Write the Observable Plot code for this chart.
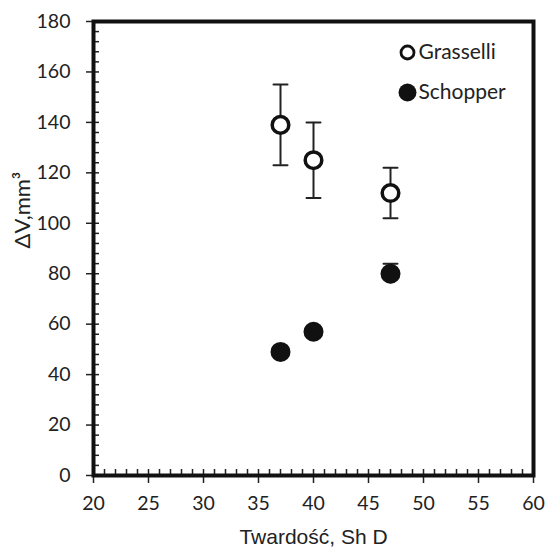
<!DOCTYPE html>
<html>
<head>
<meta charset="utf-8">
<script src="https://cdn.jsdelivr.net/npm/d3@7"></script>
<script src="https://cdn.jsdelivr.net/npm/@observablehq/plot@0.6"></script>
<style>
  html, body { margin: 0; padding: 0; background: #fff; }
  #chart { width: 548px; height: 555px; }
</style>
</head>
<body>
<div id="chart"></div>
<script>
const hardness = [37, 40, 47];
const grasselliMean = [139, 125, 112];
const grasselliLow = [123, 110, 102];
const grasselliHigh = [155, 140, 122];
const schopperMean = [49, 57, 80];
const schopperLow = [47, 55, 76];
const schopperHigh = [51, 59, 84];
const xTicks = [20, 25, 30, 35, 40, 45, 50, 55, 60];
const yTicks = [0, 20, 40, 60, 80, 100, 120, 140, 160, 180];
const legendNames = ["Grasselli", "Schopper"];

const grasselli = hardness.map((x, i) => ({x, y: grasselliMean[i], lo: grasselliLow[i], hi: grasselliHigh[i]}));
const schopper = hardness.map((x, i) => ({x, y: schopperMean[i], lo: schopperLow[i], hi: schopperHigh[i]}));
const xMinor = d3.range(20, 61, 1);
const yMinor = d3.range(0, 181, 4);
const ink = "#222";
const capShape = {draw(ctx, l) { ctx.moveTo(0, 0); ctx.lineTo(0, -l); }};

const chart = Plot.plot({
  width: 548,
  height: 555,
  marginLeft: 93,
  marginRight: 15,
  marginTop: 21,
  marginBottom: 80,
  style: {fontFamily: "Lato, 'Open Sans', sans-serif", fontSize: "19px", color: ink, background: "#fff"},
  x: {domain: [20, 60]},
  y: {domain: [0, 180]},
  marks: [
    // minor ticks inside the frame
    Plot.axisX({ticks: xMinor, tickSize: -6, text: null, stroke: ink, strokeWidth: 1.5, label: null}),
    Plot.axisY({ticks: yMinor, tickSize: -6, text: null, stroke: ink, strokeWidth: 1.5, label: null}),
    // major ticks with labels
    Plot.axisX({ticks: xTicks, tickSize: 8, tickPadding: 13, stroke: ink, strokeWidth: 1.5, fontSize: 19.5, fill: ink, label: null}),
    Plot.axisY({ticks: yTicks, tickSize: 7, tickPadding: 16, stroke: ink, strokeWidth: 1.5, fontSize: 19.5, fill: ink, label: null}),
    // axis titles
    Plot.text(["Twardość, Sh D"], {text: d => d, frameAnchor: "bottom", dy: 68, fontSize: 21, fontFamily: "'Liberation Sans', Arial, sans-serif", fill: ink}),
    Plot.text(["ΔV,mm³"], {text: d => d, frameAnchor: "left", dx: -71, rotate: -90, fontSize: 22, fill: ink}),
    Plot.frame({stroke: "#111", strokeWidth: 4}),
    // error bars
    Plot.ruleX(grasselli, {x: "x", y1: "lo", y2: "hi", stroke: ink, strokeWidth: 2}),
    Plot.vector(grasselli, {x: "x", y: "lo", length: 14, rotate: 90, anchor: "middle", shape: capShape, stroke: ink, strokeWidth: 2}),
    Plot.vector(grasselli, {x: "x", y: "hi", length: 14, rotate: 90, anchor: "middle", shape: capShape, stroke: ink, strokeWidth: 2}),
    Plot.ruleX(schopper, {x: "x", y1: "lo", y2: "hi", stroke: ink, strokeWidth: 2}),
    Plot.vector(schopper, {x: "x", y: "hi", length: 14, rotate: 90, anchor: "middle", shape: capShape, stroke: ink, strokeWidth: 2}),
    // points
    Plot.dot(grasselli, {x: "x", y: "y", r: 8.3, fill: "#fff", stroke: "#111", strokeWidth: 3.5}),
    Plot.dot(schopper, {x: "x", y: "y", r: 10, fill: "#111", stroke: "#111", strokeWidth: 0}),
    // legend
    Plot.dot([legendNames[0]], {frameAnchor: "top-right", dx: -126, dy: 31, r: 6.5, fill: "#fff", stroke: "#111", strokeWidth: 2.8}),
    Plot.dot([legendNames[1]], {frameAnchor: "top-right", dx: -126, dy: 71, r: 9, fill: "#111"}),
    Plot.text([legendNames[0]], {text: d => d, frameAnchor: "top-right", dx: -115, dy: 31, textAnchor: "start", lineAnchor: "middle", fontSize: 21, fill: ink}),
    Plot.text([legendNames[1]], {text: d => d, frameAnchor: "top-right", dx: -115, dy: 71, textAnchor: "start", lineAnchor: "middle", fontSize: 21, fill: ink})
  ]
});
document.getElementById("chart").appendChild(chart);
</script>
</body>
</html>
